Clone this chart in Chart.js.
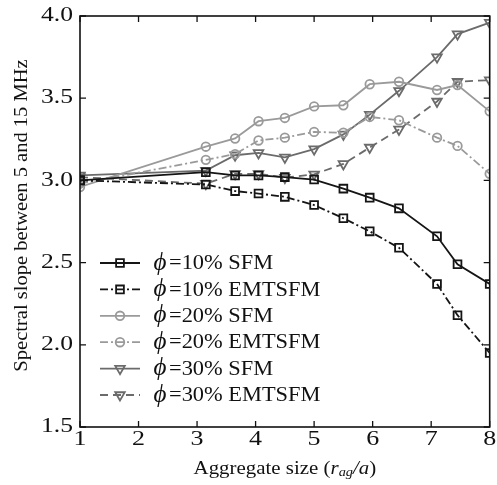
<!DOCTYPE html>
<html>
<head>
<meta charset="utf-8">
<script src="https://cdn.jsdelivr.net/npm/chart.js@4/dist/chart.umd.min.js"></script>
<style>
  html, body { margin: 0; padding: 0; background: #fff; }
  #wrap { width: 497px; height: 485px; }
</style>
</head>
<body>
<div id="wrap"><canvas id="slopeChart" width="497" height="485"></canvas></div>
<script>
// aggregate size values (r_ag / a)
const xValues = [1, 3.15, 3.65, 4.05, 4.5, 5, 5.5, 5.95, 6.45, 7.1, 7.45, 8];

// spectral slope between 5 and 15 MHz
const sfm10 = [3.00, 3.05, 3.03, 3.03, 3.02, 3.005, 2.95, 2.895, 2.83, 2.66, 2.49, 2.37];
const emt10 = [3.00, 2.975, 2.935, 2.92, 2.90, 2.85, 2.77, 2.69, 2.59, 2.37, 2.18, 1.95];
const sfm20 = [2.96, 3.205, 3.255, 3.36, 3.38, 3.45, 3.457, 3.585, 3.60, 3.55, 3.58, 3.42];
const emt20 = [2.98, 3.125, 3.16, 3.243, 3.26, 3.295, 3.29, 3.386, 3.366, 3.26, 3.21, 3.04];
const sfm30 = [3.03, 3.06, 3.153, 3.167, 3.14, 3.19, 3.28, 3.40, 3.545, 3.75, 3.89, 3.96];
const emt30 = [3.02, 2.98, 3.04, 3.04, 3.017, 3.037, 3.10, 3.20, 3.31, 3.48, 3.60, 3.61];

const seriesLabels = ['=10% SFM', '=10% EMTSFM', '=20% SFM', '=20% EMTSFM', '=30% SFM', '=30% EMTSFM'];
const xTicks = [1, 2, 3, 4, 5, 6, 7, 8];
const yTicks = [1.5, 2.0, 2.5, 3.0, 3.5, 4.0];

const BLACK = '#151515';
const LIGHT = '#9a9a9a';
const DARK = '#6b6b6b';
const DASHDOT = [8, 3, 2, 3];
const DASHED = [8, 5];
const SERIF = '"Liberation Serif", "Times New Roman", serif';

function series(label, values, color, style, dash) {
    const radius = style === 'circle' ? 4.3 : 5.5;
    return {
        label: label,
        data: xValues.map((x, i) => ({ x: x, y: values[i] })),
        borderColor: color,
        borderWidth: 1.8,
        borderDash: dash,
        pointStyle: style,
        pointRotation: style === 'triangle' ? 180 : 0,
        pointRadius: radius,
        pointBorderColor: color,
        pointBackgroundColor: 'rgba(255,255,255,0)',
        pointBorderWidth: 1.8,
        tension: 0,
        fill: false
    };
}

const datasets = [
    series(seriesLabels[0], sfm10, BLACK, 'rect', []),
    series(seriesLabels[1], emt10, BLACK, 'rect', DASHDOT),
    series(seriesLabels[2], sfm20, LIGHT, 'circle', []),
    series(seriesLabels[3], emt20, LIGHT, 'circle', DASHDOT),
    series(seriesLabels[4], sfm30, DARK, 'triangle', []),
    series(seriesLabels[5], emt30, DARK, 'triangle', DASHED)
];

// text drawn with a slight horizontal stretch, like the scanned figure
function stretchText(ctx, text, x, y, align, size, sx, italic) {
    ctx.save();
    ctx.translate(x, y);
    ctx.scale(sx, 1);
    ctx.font = (italic ? 'italic ' : '') + size + 'px ' + SERIF;
    ctx.textAlign = align;
    ctx.textBaseline = 'middle';
    ctx.fillStyle = '#111';
    ctx.fillText(text, 0, 0);
    ctx.restore();
}

const framePlugin = {
    id: 'framePlugin',
    afterDraw(chart) {
        const ctx = chart.ctx;
        const a = chart.chartArea;
        const xs = chart.scales.x;
        const ys = chart.scales.y;
        const tickLen = 6;

        ctx.save();
        ctx.strokeStyle = '#111';
        ctx.lineWidth = 1.6;
        ctx.setLineDash([]);
        ctx.strokeRect(a.left, a.top, a.right - a.left, a.bottom - a.top);

        // inward ticks on all four sides
        ctx.lineWidth = 1.3;
        ctx.beginPath();
        xTicks.forEach(v => {
            const px = xs.getPixelForValue(v);
            ctx.moveTo(px, a.bottom); ctx.lineTo(px, a.bottom - tickLen);
            ctx.moveTo(px, a.top); ctx.lineTo(px, a.top + tickLen);
        });
        yTicks.forEach(v => {
            const py = ys.getPixelForValue(v);
            ctx.moveTo(a.left, py); ctx.lineTo(a.left + tickLen, py);
            ctx.moveTo(a.right, py); ctx.lineTo(a.right - tickLen, py);
        });
        ctx.stroke();

        // tick labels
        xTicks.forEach(v => {
            stretchText(ctx, String(v), xs.getPixelForValue(v), a.bottom + 13, 'center', 20, 1.3);
        });
        yTicks.forEach(v => {
            stretchText(ctx, v.toFixed(1), a.left - 7, ys.getPixelForValue(v), 'right', 20, 1.28);
        });

        // x axis title with subscript
        const cx = (a.left + a.right) / 2;
        const ty = a.bottom + 42;
        ctx.save();
        ctx.translate(cx, ty);
        ctx.scale(1.1, 1);
        ctx.textBaseline = 'middle';
        ctx.fillStyle = '#111';
        const parts = [
            { t: 'Aggregate size (', f: '19px ' + SERIF, dy: 0 },
            { t: 'r', f: 'italic 19px ' + SERIF, dy: 0 },
            { t: 'ag', f: 'italic 13px ' + SERIF, dy: 4 },
            { t: '/', f: 'italic 19px ' + SERIF, dy: 0 },
            { t: 'a', f: 'italic 19px ' + SERIF, dy: 0 },
            { t: ')', f: '19px ' + SERIF, dy: 0 }
        ];
        let total = 0;
        parts.forEach(p => { ctx.font = p.f; p.w = ctx.measureText(p.t).width; total += p.w; });
        let px = -total / 2;
        ctx.textAlign = 'left';
        parts.forEach(p => { ctx.font = p.f; ctx.fillText(p.t, px, p.dy); px += p.w; });
        ctx.restore();

        // y axis title
        ctx.save();
        ctx.translate(22, (a.top + a.bottom) / 2 - 6);
        ctx.rotate(-Math.PI / 2);
        ctx.scale(1.08, 1);
        ctx.font = '19px ' + SERIF;
        ctx.textAlign = 'center';
        ctx.textBaseline = 'middle';
        ctx.fillStyle = '#111';
        ctx.fillText('Spectral slope between 5 and 15 MHz', 0, 0);
        ctx.restore();

        // legend inside the plot, lower left
        const lx0 = 100, lx1 = 140, rowY = 263, rowH = 26.4;
        chart.data.datasets.forEach((ds, i) => {
            const y = rowY + i * rowH;
            ctx.save();
            ctx.strokeStyle = ds.borderColor;
            ctx.lineWidth = ds.borderWidth;
            ctx.setLineDash(ds.borderDash);
            ctx.beginPath();
            ctx.moveTo(lx0, y); ctx.lineTo(lx1, y);
            ctx.stroke();
            ctx.setLineDash([]);
            ctx.lineWidth = ds.pointBorderWidth;
            ctx.fillStyle = ds.pointBackgroundColor;
            Chart.helpers.drawPoint(ctx, {
                pointStyle: ds.pointStyle,
                radius: ds.pointRadius,
                rotation: ds.pointRotation,
                borderWidth: ds.pointBorderWidth
            }, (lx0 + lx1) / 2, y);
            ctx.restore();
            stretchText(ctx, '\u03D5', 160, y, 'center', 25, 1.0, true);
            stretchText(ctx, ds.label, 169, y + 1, 'left', 20, 1.12);
        });
        ctx.restore();
    }
};

new Chart(document.getElementById('slopeChart').getContext('2d'), {
    type: 'line',
    data: { datasets: datasets },
    options: {
        responsive: false,
        animation: false,
        devicePixelRatio: 1,
        layout: { padding: { top: 16, right: 7, left: 0, bottom: 0 } },
        plugins: { legend: { display: false }, tooltip: { enabled: false } },
        scales: {
            x: {
                type: 'linear',
                min: 1, max: 8,
                ticks: { display: false, stepSize: 1 },
                grid: { display: false },
                border: { display: false },
                afterFit: s => { s.height = 58; }
            },
            y: {
                type: 'linear',
                min: 1.5, max: 4.0,
                ticks: { display: false, stepSize: 0.5 },
                grid: { display: false },
                border: { display: false },
                afterFit: s => { s.width = 80; }
            }
        }
    },
    plugins: [framePlugin]
});
</script>
</body>
</html>
